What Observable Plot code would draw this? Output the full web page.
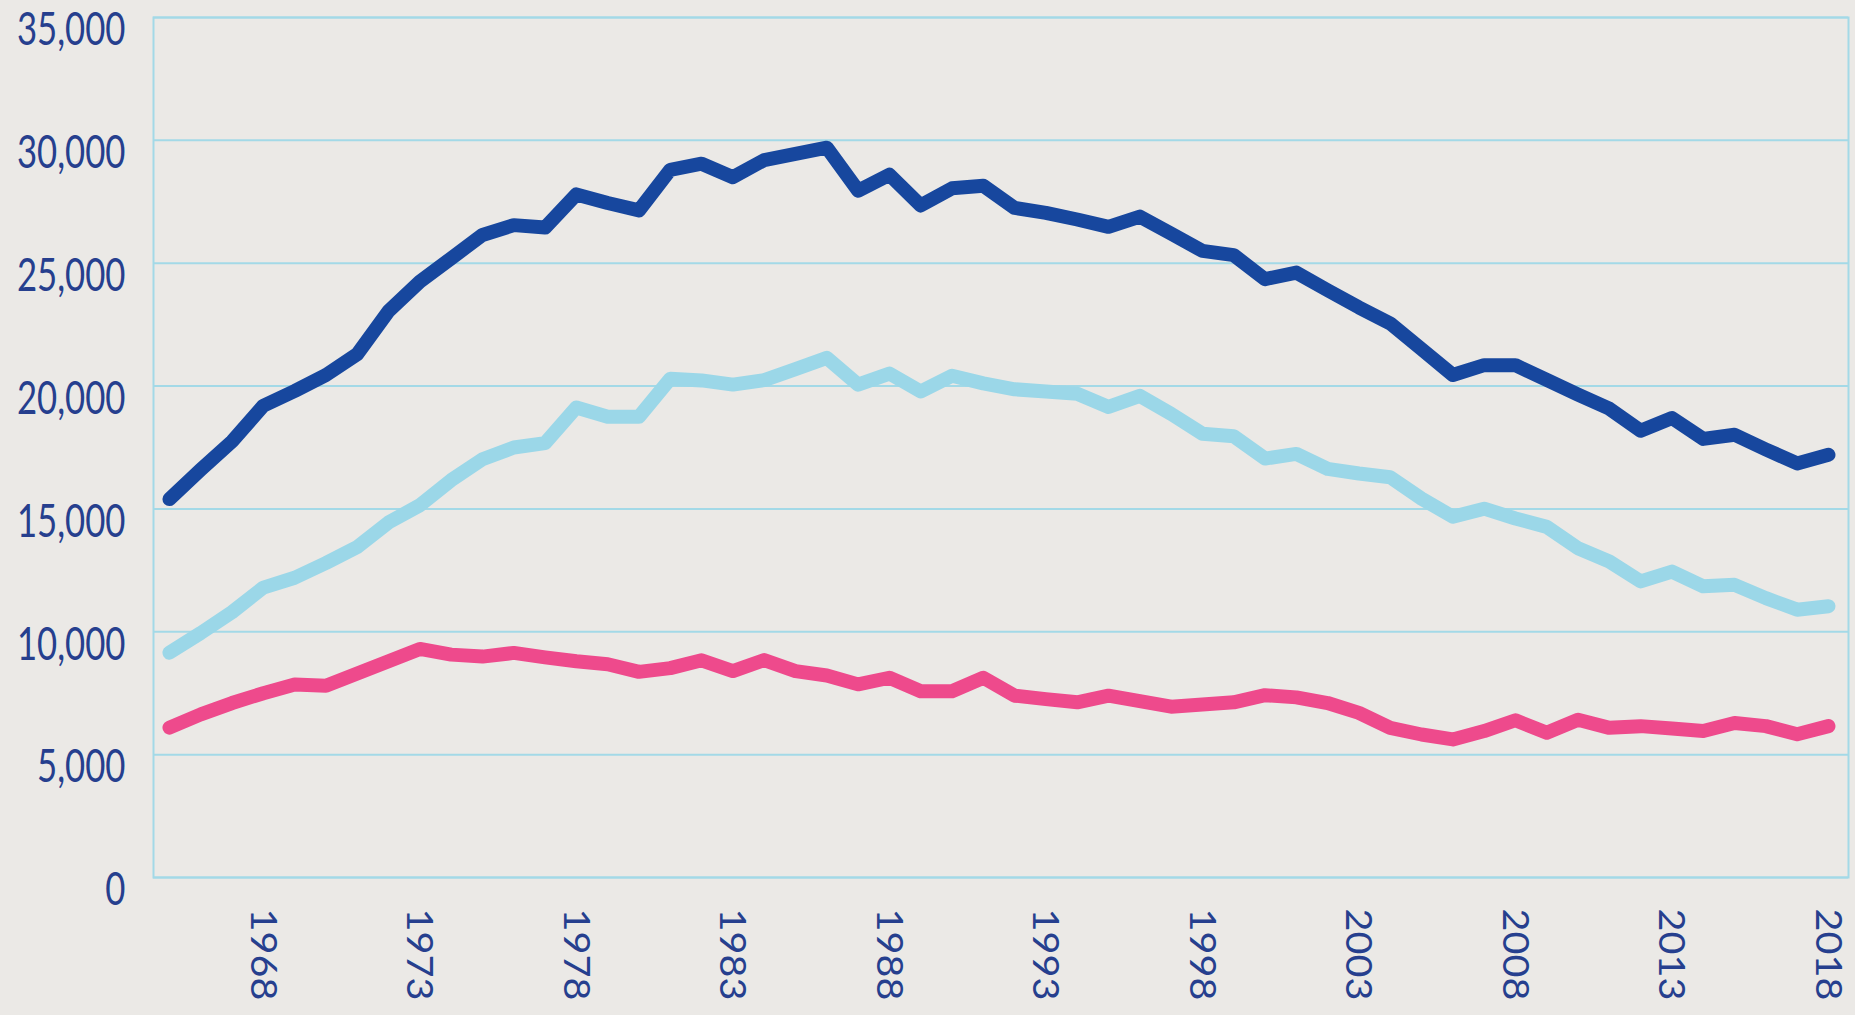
<!DOCTYPE html>
<html><head><meta charset="utf-8">
<script src="https://cdn.jsdelivr.net/npm/d3@7"></script>
<script src="https://cdn.jsdelivr.net/npm/@observablehq/plot@0.6"></script>
<style>
html,body{margin:0;padding:0;background:#ebe9e6;overflow:hidden;}
#chart{width:1855px;height:1015px;}
</style></head><body><div id="chart"></div>
<script>
const years = [1965,1966,1967,1968,1969,1970,1971,1972,1973,1974,1975,1976,1977,1978,1979,1980,1981,1982,1983,1984,1985,1986,1987,1988,1989,1990,1991,1992,1993,1994,1995,1996,1997,1998,1999,2000,2001,2002,2003,2004,2005,2006,2007,2008,2009,2010,2011,2012,2013,2014,2015,2016,2017,2018];
const darkValues = [15400,16600,17750,19200,19800,20450,21300,23050,24250,25200,26150,26550,26450,27800,27450,27150,28800,29050,28500,29200,29450,29700,27950,28600,27350,28050,28150,27250,27050,26780,26480,26900,26200,25500,25330,24350,24620,23900,23200,22550,21500,20450,20850,20850,20250,19650,19080,18180,18700,17850,18020,17420,16850,17200];
const lightValues = [9150,9950,10800,11800,12200,12800,13450,14450,15150,16170,17020,17500,17680,19130,18750,18750,20300,20230,20060,20240,20690,21150,20060,20510,19780,20420,20110,19870,19780,19690,19150,19600,18870,18060,17960,17050,17240,16630,16440,16290,15420,14680,15010,14610,14270,13400,12860,12050,12450,11850,11910,11370,10900,11040];
const pinkValues = [6100,6640,7100,7500,7850,7800,8300,8800,9300,9070,8990,9140,8960,8800,8680,8370,8520,8840,8400,8850,8400,8220,7860,8130,7580,7580,8130,7400,7260,7130,7400,7180,6950,7040,7130,7420,7330,7100,6700,6090,5820,5620,5960,6400,5890,6420,6090,6160,6060,5960,6290,6160,5830,6160];
const yTicks = [0,5000,10000,15000,20000,25000,30000,35000];
const xTicks = [1968,1973,1978,1983,1988,1993,1998,2003,2008,2013,2018];

const navy = "#263f8e";
const grid = "#a3d9e7";
const bg = "#ebe9e6";

const rows = (vals, s) => years.map((y, i) => ({year: y, value: vals[i], series: s}));
const darkRows = rows(darkValues, "A");
const lightRows = rows(lightValues, "B");
const pinkRows = rows(pinkValues, "C");

const lineOpts = {x: "year", y: "value", strokeWidth: 14, strokeLinecap: "round", strokeLinejoin: "round"};

const chart = Plot.plot({
  width: 1855, height: 1015,
  marginLeft: 153, marginRight: 7, marginTop: 17, marginBottom: 138,
  style: {background: bg, fontFamily: "Lato", color: navy, overflow: "visible"},
  x: {domain: [1964.49, 2018.64], axis: null},
  y: {domain: [0, 35000], axis: null, label: null},
  marks: [
    Plot.ruleY(yTicks, {stroke: grid, strokeWidth: 2}),
    Plot.frame({stroke: grid, strokeWidth: 2}),
    Plot.line(pinkRows, {...lineOpts, stroke: "#ee4a8c"}),
    Plot.line(lightRows, {...lineOpts, stroke: "#9bd7e8"}),
    Plot.line(darkRows, {...lineOpts, stroke: "#17479e"}),
    Plot.axisY(yTicks, {label: null, tickSize: 0, tickPadding: 28, fontSize: 46, dy: 13, tickFormat: d3.format(","), fill: navy}),
    Plot.text(xTicks, {x: d => d, text: d => String(d), frameAnchor: "bottom", rotate: 90, textAnchor: "start", lineAnchor: "middle", dy: 31, dx: -1, fontSize: 36, fill: navy})
  ]
});
document.getElementById("chart").append(chart);

function stretch(sel, factor) {
  for (const t of chart.querySelectorAll(sel)) {
    const w = t.getComputedTextLength();
    t.setAttribute("textLength", w * factor);
    t.setAttribute("lengthAdjust", "spacingAndGlyphs");
  }
}
stretch('g[aria-label="y-axis tick label"] text', 0.755);
stretch('g[aria-label="text"] text', 1.10);
</script>
</body></html>
